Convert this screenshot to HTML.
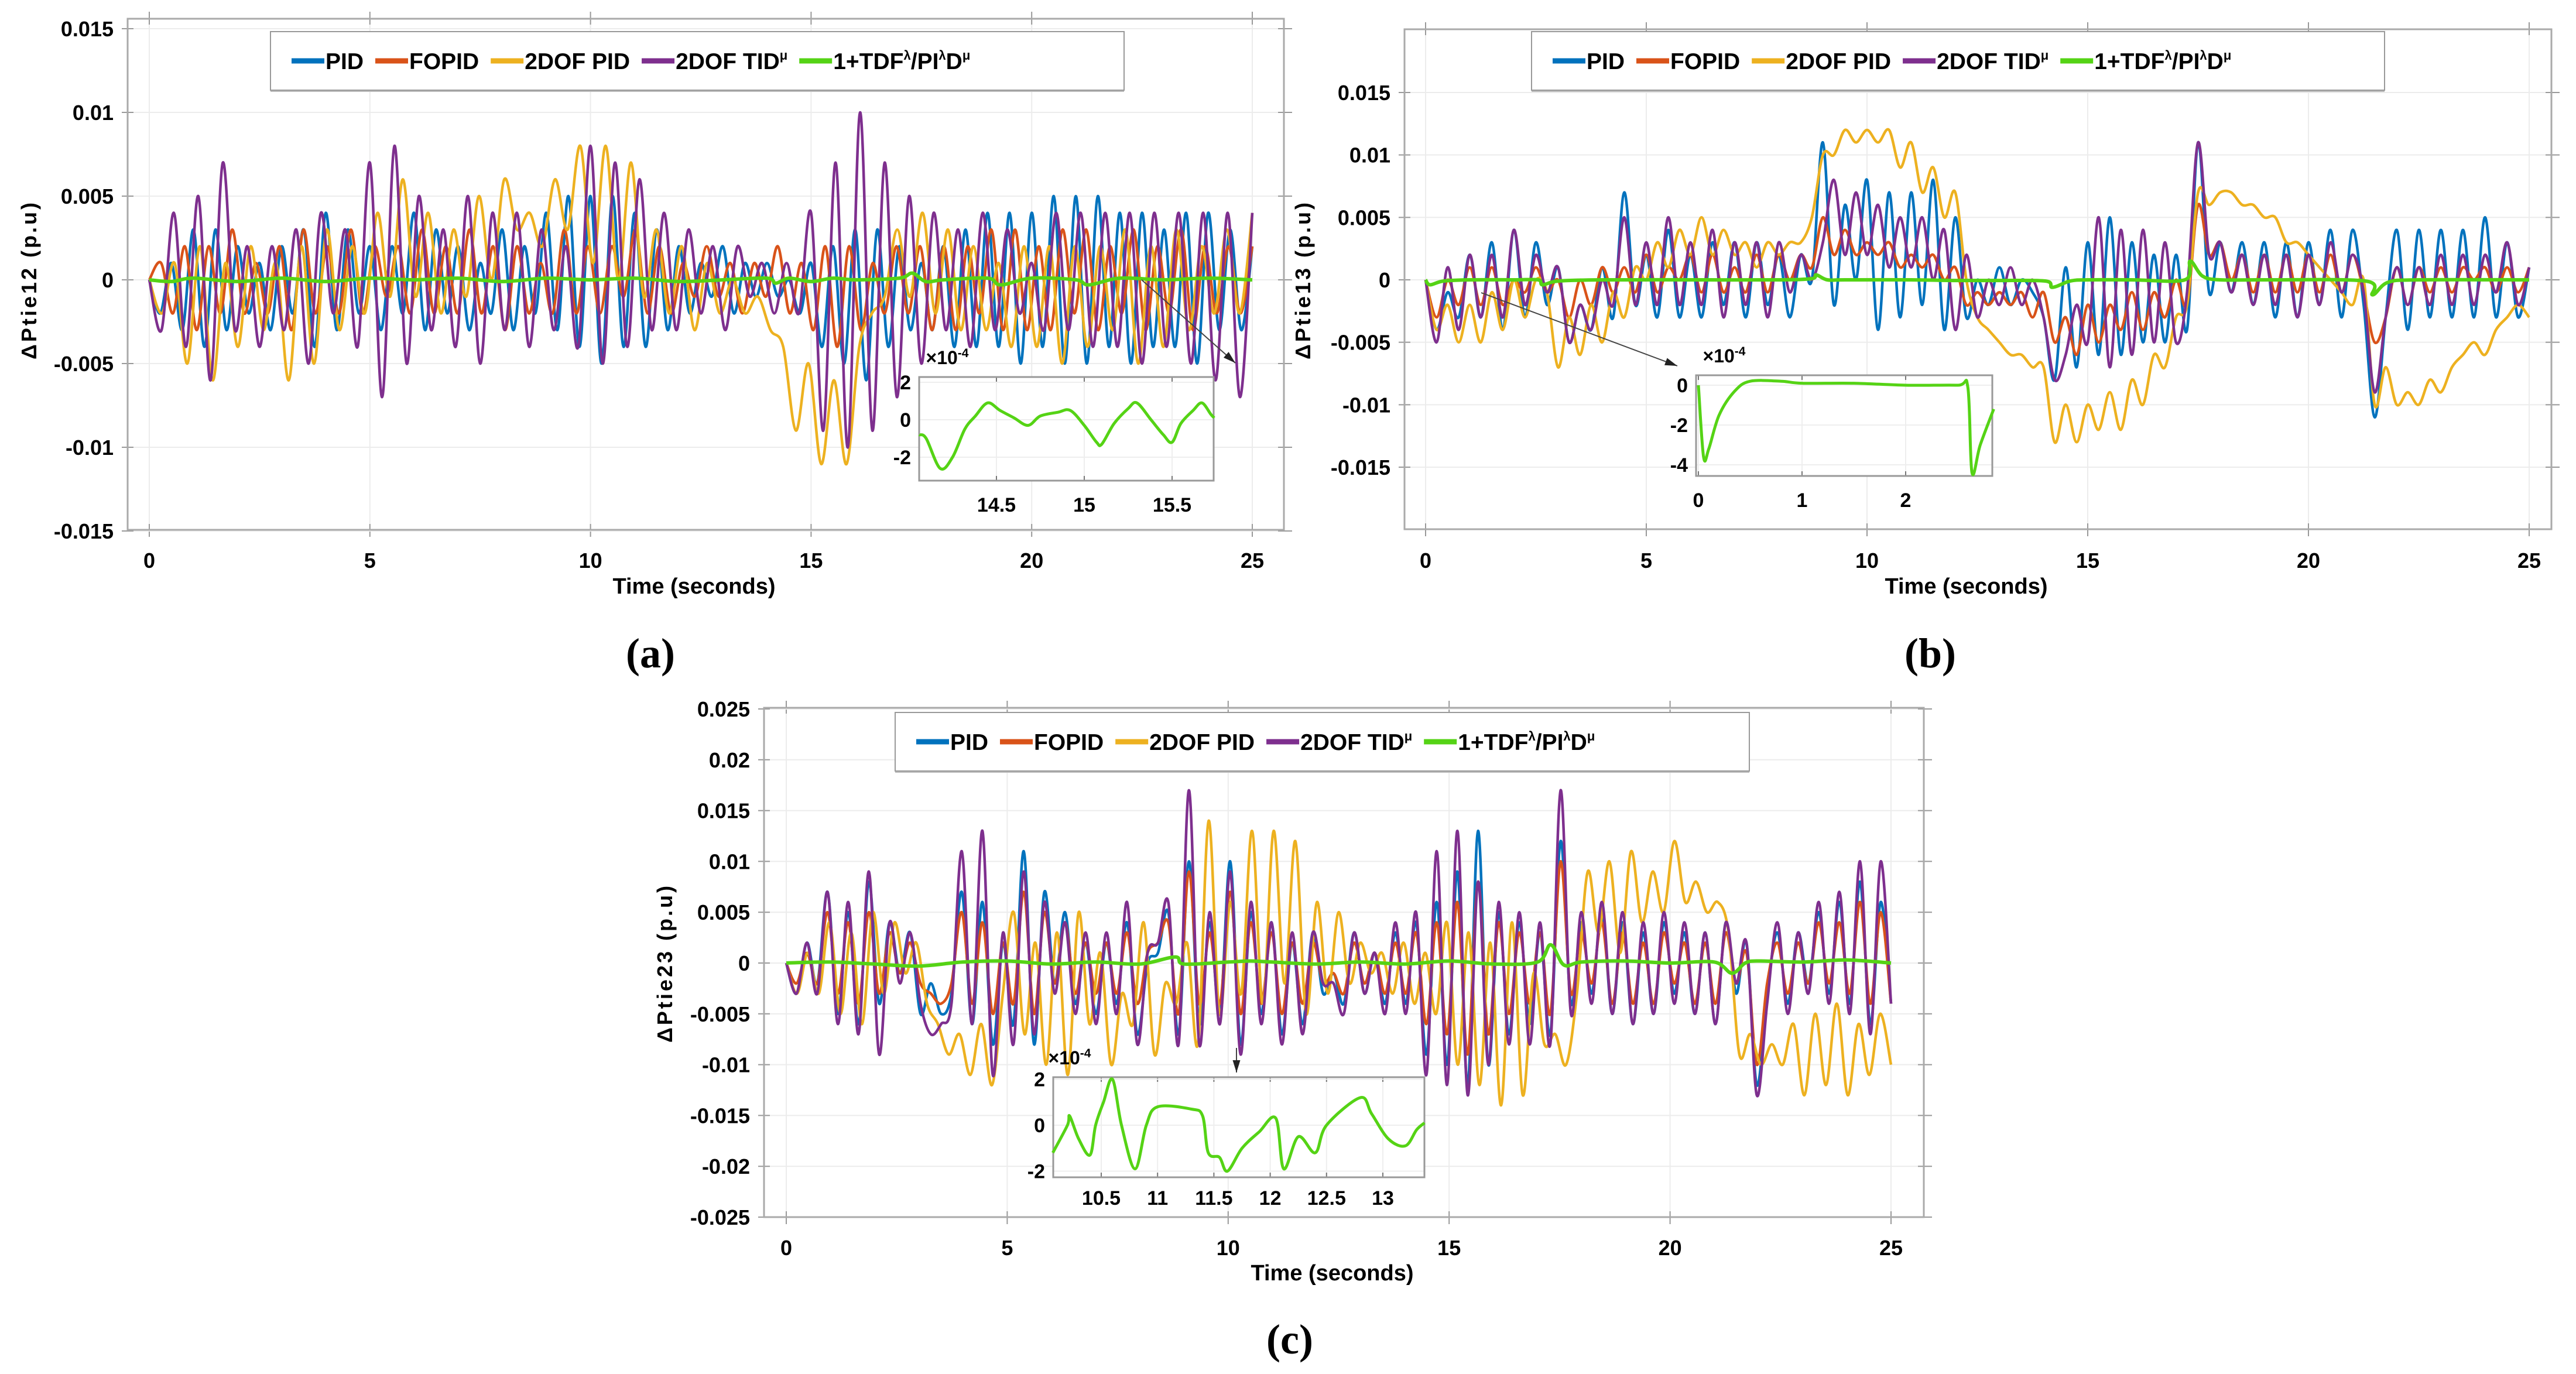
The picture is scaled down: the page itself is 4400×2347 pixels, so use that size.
<!DOCTYPE html>
<html><head><meta charset="utf-8"><style>
html,body{margin:0;padding:0;background:#fff}
svg{display:block}
text{font-family:"Liberation Sans",sans-serif;font-weight:bold;fill:#000}
</style></head><body>
<svg id="fig" width="4400" height="2347" viewBox="0 0 4400 2347" xmlns="http://www.w3.org/2000/svg">
<rect width="4400" height="2347" fill="#fff"/>
</svg>
<script>
// ---- data (units 1e-3 p.u. for main; 1e-4 for insets), evenly spaced over 0..25 s ----
const aPID=[0,-2,1,-3,3,-4,3,-3,2,-2,1,-3,2,-2,3,-4,4,-3,3,-2,2,-3,2,-2,4,-3,3,-2,2,-3,1,-2,3,-3,2,-2,4,-3,5,-4,5,-5,5,-4,4,-4,3,-3,2,-2,1,-1,2,-2,1,-1,1,-1,0,-2,1,-4,2,-5,3,-6,3,-4,2,-3,1,-3,2,-4,3,-4,4,-4,4,-5,4,-4,5,-5,5,-5,5,-4,4,-5,4,-4,3,-4,4,-5,4,-3,3,-3,2];
const aFOPID=[0,1,-2,2,-3,2,-2,3,-2,1,-2,2,-3,3,-2,2,-2,3,-2,2,-1,2,-2,3,-2,2,-2,3,-2,2,-3,2,-2,1,-2,3,-2,2,-2,2,-1,3,-2,2,-2,1,-1,2,-1,1,-2,1,-1,2,-2,1,-3,2,-4,2,-3,1,-2,2,-2,2,-3,2,-3,2,-2,3,-3,3,-3,2,-3,3,-2,3,-3,2,-2,3,-3,2,-2,3,-3,2,-2,2,-2,2];
const a2DOF=[0,-2,1,-5,2,-6,1,-4,2,-3,1,-6,2,-5,3,-3,2,-2,4,-1,6,-1,4,-2,3,-1,5,0,6,3,4,2,6,3,8,1,8,0,7,-1,3,-2,2,-3,1,-2,0,-2,-1,-3,-4,-9,-5,-11,-6,-11,-4,-2,-1,3,-1,4,-2,3,-3,2,-3,1,-4,2,-4,2,-5,2,-4,2,-3,3,-5,2,-4,3,-3,2,-2,3,-2,4];
const aTID=[0,-3,4,-4,5,-6,7,-3,2,-4,2,-3,3,-5,4,-2,3,-4,7,-7,8,-5,5,-3,3,-4,5,-5,4,-3,4,-4,3,-3,2,-4,8,-5,7,-4,6,-3,4,-3,3,-2,2,-3,2,-1,1,-2,1,-2,4,-9,7,-10,10,-9,7,-7,5,-5,4,-3,3,-4,4,-3,3,-2,1,-3,4,-3,4,-4,4,-4,4,-5,4,-4,4,-5,4,-6,4,-7,4];
const aGreenT=[0,0.5,1,2,3,4,5,6,7,8,9,10,11,12,13,14,14.2,14.5,15,15.5,16,17,17.3,17.6,18,19,19.3,20,21,21.3,22,23,24,25];
const aGreenV=[0,-0.1,0.1,-0.1,0.1,-0.1,0.1,0,0.1,-0.1,0.1,0,0.1,-0.1,0,0.1,-0.2,0.1,-0.1,0.1,0,0.1,0.4,-0.1,0,0.1,-0.3,0.1,0,-0.3,0.1,0,0.1,0];
const aInsT=[14.06,14.1,14.18,14.25,14.32,14.38,14.45,14.52,14.6,14.68,14.75,14.85,14.92,15.0,15.07,15.1,15.17,15.25,15.3,15.38,15.45,15.5,15.55,15.62,15.67,15.72,15.74];
const aInsV=[-0.8,-1,-2.6,-2,-0.5,0.2,0.9,0.5,0.1,-0.3,0.2,0.4,0.5,-0.3,-1.2,-1.3,-0.2,0.6,0.9,0,-0.8,-1.2,-0.2,0.5,0.9,0.3,0.1];

// plot b: 101 samples, 0.25 s apart
const bPID=[0,-4,-1,-3,2,-3,3,-4,4,-3,3,-2,1,-5,-2,-4,1,-3,7,-2,2,-3,4,-3,2,-3,3,-2,3,-3,3,-2,2,-3,2,0,
 11,-2,6,0,8,-4,7,-3,7,-2,8,-4,5,
 -3,0,-2,1,-2,0,-1,-3,
 -8,1,-7,3,-6,5,-6,3,-5,2,-5,2,-4,
 11,
 -1,3,-1,3,-2,3,-3,3,-3,3,-2,4,-3,4,-2,
 -11,
 -3,4,-4,4,-3,4,-3,4,-3,5,-3,3,-3,1];
const bFOPID=[0,-3,0,-2,1,-2,1,-2,0,-1,1,-1,0,-3,0,-2,1,-1,1,-1,2,-1,1,0,2,-1,2,-1,1,-1,2,-1,2,0,2,1,
 5,2,4,2,3,2,3,1,2,1,2,0,1,
 -2,-1,-2,-1,-2,-1,-3,-1,
 -5,-3,-6,-2,-5,-2,-4,-1,-4,-1,-3,0,-2,
 6,
 2,3,0,2,-1,2,-1,2,-1,2,-1,2,-1,2,-1,
 -5,
 -3,1,-2,1,-1,1,-1,1,0,1,-1,1,-1,1];
const b2DOF=[0,-4,-2,-5,-2,-5,-1,-4,0,-3,0,-1,-7,-3,-6,-2,-5,-1,-3,1,0,3,1,4,2,5,2,4,2,3,1,3,2,3,3,5,
 10,10,12,11,12,11,12,9,11,7,9,5,7,
 0,-3,-4,-5,-6,-6,-7,-7,
 -13,-10,-13,-10,-12,-9,-12,-8,-10,-6,-7,-3,-2,
 7,
 6,7,7,6,6,5,5,3,3,2,1,0,-1,-2,0,
 -10,
 -7,-10,-9,-10,-8,-9,-7,-6,-5,-6,-4,-3,-2,-3];
const bTID=[0,-5,1,-4,2,-3,2,-3,4,-2,2,-1,1,-5,-2,-4,0,-2,5,-2,3,-2,5,-2,3,-2,4,-3,3,-2,3,-3,3,-1,2,0,
 3,8,2,7,2,6,1,5,1,5,0,4,-4,
 2,-3,0,-2,1,-2,0,-3,
 -8,-6,-2,-5,5,-7,4,-6,4,-5,3,-5,-1,
 11,
 2,3,-1,2,-2,2,-2,2,-3,2,-2,3,-1,2,-1,
 -9,
 -3,1,-2,1,-2,2,-2,2,-2,2,-1,3,-2,1];
const bGreenT=[0,0.1,0.4,1,2,2.55,2.65,3,4,6,8,8.75,8.85,9.1,9.5,11,12,13,14.05,14.2,14.6,15,16,17.2,17.32,17.6,18,19,21.3,21.45,21.8,22.5,25];
const bGreenV=[0,-0.4,-0.1,0,0,0,-0.4,-0.1,0,0,0,0.1,0.4,0,0,0,-0.05,-0.05,-0.1,-0.6,-0.1,0,0,0,1.5,0.3,0,0,-0.1,-1.2,-0.2,0,0];
const bInsT=[0,0.05,0.1,0.2,0.35,0.5,0.8,1,1.5,2,2.5,2.6,2.64,2.72,2.85];
const bInsV=[0,-3.6,-3.2,-1.5,-0.3,0.2,0.2,0.1,0.1,0,0,-0.1,-4.4,-3,-1.2];

const cPID=[0,-3,2,-2,7,-5,5,-6,8,-4,4,-1,3,-5,-2,-5,-3,7,-6,6,-8,2,-6,11,-8,7,-2,5,-4,2,-5,2,-4,4,-7,0,1,5,-7,10,-6,4,-5,10,-8,5,-5,4,-7,2,-6,3,-3,-1,-4,3,-3,1,-4,3,-4,4,-9,6,-10,9,-12,13,-10,5,-7,4,-6,3,-7,12,-4,4,-3,5,-5,4,-6,3,-5,4,-3,3,-5,3,-6,4,-3,2,-12,-3,3,-4,3,-2,5,-3,6,-4,8,-6,6,-4];
const cFOPID=[0,-2,1,-2,5,-3,4,-4,5,-3,3,-1,2,-2,-3,-4,-2,5,-4,4,-5,2,-4,7,-5,5,-2,4,-3,2,-3,2,-3,3,-4,1,2,4,-5,9,-4,3,-4,7,-5,4,-4,3,-5,2,-4,2,-2,-1,-3,2,-2,1,-3,2,-3,3,-6,4,-7,6,-9,8,-7,4,-5,3,-4,3,-5,10,-3,3,-2,4,-4,3,-4,2,-4,3,-2,2,-4,2,-4,3,-2,1,-10,-2,2,-3,2,-2,4,-2,4,-3,6,-4,5,-4];
const c2DOF=[0,-3,1,-3,4,-5,3,-6,5,-3,4,-1,2,-4,-6,-9,-7,-11,-6,-12,-3,5,-7,2,-10,3,-11,5,-6,1,-10,-3,-6,4,-9,-2,-4,2,-8,14,-5,6,-3,13,-4,13,-2,12,-5,6,-3,5,-2,2,-1,1,-3,2,-4,1,-5,4,-10,3,-12,2,-14,4,-13,-1,-8,-7,-10,-3,9,3,10,1,11,4,9,5,12,6,8,5,6,3,-9,-7,-10,-8,-10,-6,-13,-5,-12,-4,-13,-6,-11,-5,-10];
const cTID=[0,-3,2,-3,7,-6,6,-7,9,-9,4,-2,3,-4,-7,-6,-4,11,-6,13,-11,3,-8,9,-7,6,-3,4,-5,3,-6,3,-5,6,-8,1,2,6,-8,17,-8,5,-6,9,-9,6,-6,4,-8,3,-7,3,-2,-2,-5,3,-3,1,-5,4,-5,5,-11,11,-12,13,-13,8,-10,6,-8,5,-8,4,-8,17,-5,5,-4,6,-5,5,-6,4,-5,5,-4,4,-5,3,-6,4,-2,2,-13,-4,4,-5,3,-3,6,-4,7,-5,10,-7,10,-4];
const cGreenT=[0,1,2,3,4,5,6,7,8,8.8,9,10,10.5,11,12,13,14,15,16,17,17.3,17.6,18,19,20,21,21.4,21.7,22,23,24,25];
const cGreenV=[0,0.1,-0.1,-0.3,0.1,0.2,-0.1,0.1,-0.1,0.6,-0.1,0.1,0.2,0.1,-0.1,0.1,-0.1,0.2,-0.1,0.1,1.8,-0.2,0.1,0.2,0,0.1,-1.0,0,0.2,0.1,0.3,0];
const cInsT=[10.07,10.2,10.22,10.3,10.4,10.45,10.52,10.6,10.68,10.8,10.9,11,11.3,11.4,11.45,11.55,11.62,11.75,11.9,12.05,12.12,12.25,12.4,12.5,12.8,12.9,13.05,13.2,13.3,13.37];
const cInsV=[-1.2,0,0.4,-0.6,-1.3,0,1,2,0,-1.9,0,0.8,0.7,0.4,-1.2,-1.4,-2,-1,-0.3,0.3,-1.9,-0.5,-1.2,0,1.2,0.5,-0.6,-0.9,-0.2,0.1];

const xTicks=[0,5,10,15,20,25];
const yTicksAB=[-0.015,-0.01,-0.005,0,0.005,0.01,0.015];
const yTickLabelsAB=['-0.015','-0.01','-0.005','0','0.005','0.01','0.015'];
const yTicksC=[-0.025,-0.02,-0.015,-0.01,-0.005,0,0.005,0.01,0.015,0.02,0.025];
const yTickLabelsC=['-0.025','-0.02','-0.015','-0.01','-0.005','0','0.005','0.01','0.015','0.02','0.025'];
const seriesNames=['PID','FOPID','2DOF PID','2DOF TID','1+TDF'];
const colors=['#0072BD','#D95319','#EDB120','#7E2F8E','#55D315'];

const NS='http://www.w3.org/2000/svg';
const svg=document.getElementById('fig');
function el(tag,attrs,parent){const e=document.createElementNS(NS,tag);for(const k in attrs)e.setAttribute(k,attrs[k]);(parent||svg).appendChild(e);return e;}
function txt(s,x,y,size,anchor,parent){const t=el('text',{x:x,y:y,'font-size':size,'text-anchor':anchor||'middle'},parent);t.textContent=s;return t;}
function smooth(pts){let d='M'+pts[0][0].toFixed(1)+','+pts[0][1].toFixed(1);
 for(let i=0;i<pts.length-1;i++){const p0=pts[Math.max(0,i-1)],p1=pts[i],p2=pts[i+1],p3=pts[Math.min(pts.length-1,i+2)];
  const c1=[p1[0]+(p2[0]-p0[0])/6,p1[1]+(p2[1]-p0[1])/6],c2=[p2[0]-(p3[0]-p1[0])/6,p2[1]-(p3[1]-p1[1])/6];
  d+='C'+c1[0].toFixed(1)+','+c1[1].toFixed(1)+' '+c2[0].toFixed(1)+','+c2[1].toFixed(1)+' '+p2[0].toFixed(1)+','+p2[1].toFixed(1);}
 return d;}

function legend(g,x0,y0,w,h){
 el('rect',{x:x0,y:y0+3,width:w,height:h,fill:'#bbb'},g);
 el('rect',{x:x0,y:y0,width:w,height:h,fill:'#fff',stroke:'#999','stroke-width':2},g);
 let x=x0+36;const yc=y0+h/2;
 const labels=[['PID'],['FOPID'],['2DOF PID'],['2DOF TID','μ'],['1+TDF','λ','/PI','λ','D','μ']];
 labels.forEach((parts,i)=>{
  const ent=el('g',{},g);
  
  
  el('line',{x1:x,y1:yc,x2:x+56,y2:yc,stroke:colors[i],'stroke-width':9},ent);
  const t=el('text',{x:x+58,y:yc+14,'font-size':39,'text-anchor':'start'},ent);
  parts.forEach((p,j)=>{const ts=el('tspan',{},t);ts.textContent=p;
   const sup=(i===3&&j===1)||(i===4&&(j===1||j===3||j===5));
   if(sup){ts.setAttribute('font-size','22');ts.setAttribute('dy','-16');}
   else if(j>0){ts.setAttribute('dy','16');}});
  x+=58+t.getComputedTextLength()+20;
 });
}

function plot(cfg){
 const g=el('g',{});
 
 
 const X=t=>cfg.x0+(t/25)*(cfg.x25-cfg.x0);
 const Y=v=>cfg.yz-v*cfg.ys;
 const f=cfg.frame;
 el('rect',{x:f[0],y:f[1],width:f[2]-f[0],height:f[3]-f[1],fill:'#fff'},g);
 xTicks.forEach(t=>{el('line',{x1:X(t),y1:f[1],x2:X(t),y2:f[3],stroke:'#ececec','stroke-width':2},g);
  el('line',{x1:X(t),y1:f[1]-12,x2:X(t),y2:f[1]+10,stroke:'#999','stroke-width':2},g);
  el('line',{x1:X(t),y1:f[3]-10,x2:X(t),y2:f[3]+12,stroke:'#999','stroke-width':2},g);
  const lb=txt(String(t),X(t),cfg.xly,36,'middle',g);
  });
 cfg.yt.forEach((v,i)=>{el('line',{x1:f[0],y1:Y(v),x2:f[2],y2:Y(v),stroke:'#ececec','stroke-width':2},g);
  el('line',{x1:f[0]-10,y1:Y(v),x2:f[0]+10,y2:Y(v),stroke:'#999','stroke-width':2},g);
  el('line',{x1:f[2]-10,y1:Y(v),x2:f[2]+14,y2:Y(v),stroke:'#999','stroke-width':2},g);
  const lb=txt(cfg.ytl[i],f[0]-24,Y(v)+13,36,'end',g);
  });
 el('rect',{x:f[0],y:f[1],width:f[2]-f[0],height:f[3]-f[1],fill:'none',stroke:'#aaa','stroke-width':3},g);
 cfg.series.forEach((s,i)=>{
  const pts=s.map((v,k)=>[X(k/(s.length-1)*25),Y(v*1e-3)]);
  const p=el('path',{d:smooth(pts),fill:'none',stroke:colors[i],'stroke-width':4.5,'stroke-linejoin':'round'},g);
  
  });
 const gp=cfg.green[0].map((t,k)=>[X(t),Y(cfg.green[1][k]*1e-3)]);
 const gl=el('path',{d:smooth(gp),fill:'none',stroke:colors[4],'stroke-width':6},g);
 
 const ar=cfg.arrow;
 el('line',{x1:ar[0],y1:ar[1],x2:ar[2],y2:ar[3],stroke:'#444','stroke-width':2},g);
 const ang=Math.atan2(ar[3]-ar[1],ar[2]-ar[0]);
 const hx=ar[2],hy=ar[3];
 el('polygon',{points:[hx,hy,hx-22*Math.cos(ang-0.3),hy-22*Math.sin(ang-0.3),hx-22*Math.cos(ang+0.3),hy-22*Math.sin(ang+0.3)].join(','),fill:'#222'},g);
 const lg=el('g',{},g);
 
 legend(lg,...cfg.leg);
 const xt=txt('Time (seconds)',(f[0]+f[2])/2+cfg.xtoff,cfg.xty,38,'middle',g);
 
 const yt=el('text',{x:0,y:0,'font-size':36,'text-anchor':'middle','letter-spacing':4,transform:'translate('+cfg.ytx+','+cfg.yty+') rotate(-90)'},g);
 yt.textContent=cfg.ylab;
 
 const ins=cfg.ins;const ig=el('g',{},g);
 
 const IX=t=>ins.bx+(t-ins.t0)*ins.sx, IY=v=>ins.by-v*ins.sy;
 el('rect',{x:ins.box[0],y:ins.box[1],width:ins.box[2]-ins.box[0],height:ins.box[3]-ins.box[1],fill:'#fff'},ig);
 ins.xt.forEach(t=>{el('line',{x1:IX(t),y1:ins.box[1],x2:IX(t),y2:ins.box[3],stroke:'#eee','stroke-width':2},ig);
  el('line',{x1:IX(t),y1:ins.box[3]-8,x2:IX(t),y2:ins.box[3],stroke:'#777','stroke-width':2},ig);
  el('line',{x1:IX(t),y1:ins.box[1],x2:IX(t),y2:ins.box[1]+8,stroke:'#777','stroke-width':2},ig);
  txt(String(t),IX(t),ins.xly,34,'middle',ig);});
 ins.yt.forEach(v=>{el('line',{x1:ins.box[0],y1:IY(v),x2:ins.box[2],y2:IY(v),stroke:'#eee','stroke-width':2},ig);
  txt(String(v),ins.box[0]-14,IY(v)+12,34,'end',ig);});
 el('rect',{x:ins.box[0],y:ins.box[1],width:ins.box[2]-ins.box[0],height:ins.box[3]-ins.box[1],fill:'none',stroke:'#999','stroke-width':3},ig);
 const ip=ins.d[0].map((t,k)=>[IX(t),IY(ins.d[1][k])]);
 el('path',{d:smooth(ip),fill:'none',stroke:colors[4],'stroke-width':5},ig);
 const ex=el('text',{x:ins.box[0]+ins.exo,y:ins.box[1]-22,'font-size':32,'text-anchor':'middle'},ig);
 ex.innerHTML='×10<tspan font-size="21" dy="-12">-4</tspan>';
}

plot({name:'subplot-a',frame:[218,32,2193,905],x0:255,x25:2139,yz:478,ys:28600,yt:yTicksAB,ytl:yTickLabelsAB,xly:970,xty:1014,xtoff:-20,ytx:62,yty:478,ylab:'ΔPtie12 (p.u)',
 series:[aPID,aFOPID,a2DOF,aTID],green:[aGreenT,aGreenV],arrow:[1950,478,2110,620],leg:[462,54,1458,100],
 ins:{box:[1570,644,2073,821],bx:1570,t0:14.06,sx:300,by:717,sy:32,xt:[14.5,15,15.5],yt:[2,0,-2],xly:874,d:[aInsT,aInsV],exo:48}});
plot({name:'subplot-b',frame:[2399,50,4358,904],x0:2435,x25:4320,yz:478,ys:21333,yt:yTicksAB,ytl:yTickLabelsAB,xly:970,xty:1014,xtoff:-20,ytx:2238,yty:478,ylab:'ΔPtie13 (p.u)',
 series:[bPID,bFOPID,b2DOF,bTID],green:[bGreenT,bGreenV],arrow:[2530,500,2865,625],leg:[2616,54,1457,100],
 ins:{box:[2897,641,3403,813],bx:2901,t0:0,sx:177,by:658,sy:34,xt:[0,1,2],yt:[0,-2,-4],xly:866,d:[bInsT,bInsV],exo:48}});
plot({name:'subplot-c',frame:[1305,1209,3286,2079],x0:1343,x25:3230,yz:1645,ys:17360,yt:yTicksC,ytl:yTickLabelsC,xly:2144,xty:2187,xtoff:-20,ytx:1148,yty:1645,ylab:'ΔPtie23 (p.u)',
 series:[cPID,cFOPID,c2DOF,cTID],green:[cGreenT,cGreenV],arrow:[2112,1790,2112,1832],leg:[1529,1217,1459,100],
 ins:{box:[1799,1840,2433,2011],bx:1881,t0:10.5,sx:192.4,by:1922,sy:39.25,xt:[10.5,11,11.5,12,12.5,13],yt:[2,0,-2],xly:2058,d:[cInsT,cInsV],exo:28}});

[['(a)',1111,1140],['(b)',3297,1140],['(c)',2203,2312]].forEach(l=>{
 const t=el('text',{x:l[1],y:l[2],'font-size':72,'text-anchor':'middle'});
 t.style.fontFamily='"Liberation Serif",serif';t.style.fontWeight='bold';
 t.textContent=l[0];
 
 
});
</script>
</body></html>
